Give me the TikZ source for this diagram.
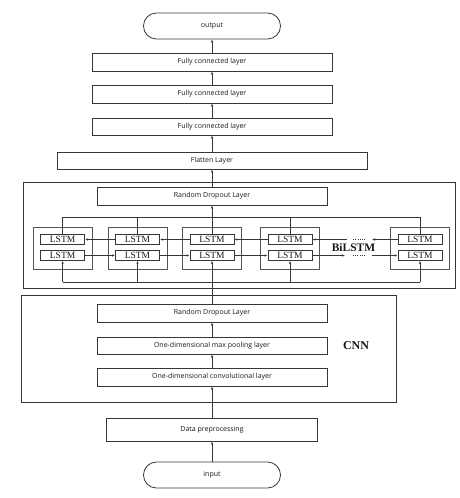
\documentclass[tikz,border=0pt]{standalone}
\usepackage{fontspec}
\setmainfont{Open Sans}
\newfontfamily\serifb{Liberation Serif}
\usetikzlibrary{arrows.meta}
\definecolor{linecol}{HTML}{363636}
\definecolor{txtcol}{HTML}{181818}
\tikzset{
 lay/.style={draw=linecol, line width=0.8pt, minimum height=18pt, minimum width=230pt, inner sep=0pt, font=\fontsize{7}{8}\selectfont, text=txtcol},
 term/.style={lay, rounded corners=12.9pt, minimum width=137pt, minimum height=26pt},
 frame/.style={draw=linecol, line width=0.9pt, inner sep=0pt},
 grp/.style={draw=linecol!85, line width=0.9pt, minimum width=59pt, minimum height=42pt, inner sep=0pt},
 lstm/.style={draw=linecol, line width=0.9pt, minimum width=44pt, minimum height=9.5pt, inner sep=0pt, text=txtcol, font=\serifb\fontsize{9.5}{9.5}\selectfont},
 arr/.style={draw=linecol, line width=0.65pt, -{Latex[length=3pt,width=2.4pt]}},
 ln/.style={draw=linecol, line width=0.65pt},
 dots/.style={draw=linecol, line width=0.6pt, dash pattern=on 0.9pt off 1.3pt},
 biglab/.style={text=txtcol, font=\serifb\bfseries\fontsize{12}{12}\selectfont, inner sep=0pt},
}
\begin{document}
\begin{tikzpicture}[x=1pt,y=-1pt]
\useasboundingbox (0,0) rectangle (459,498);
% frames
\node[frame, minimum width=432pt, minimum height=106pt] (bil) at (239,235) {};
\node[frame, minimum width=375pt, minimum height=107pt] (cnn) at (208.5,348.5) {};
% top chain
\node[term] (out) at (212,26) {output};
\node[lay, minimum width=240pt] (fc1) at (212,62) {Fully connected layer};
\node[lay, minimum width=240pt] (fc2) at (212,94) {Fully connected layer};
\node[lay, minimum width=240pt, minimum height=17pt] (fc3) at (212,126.5) {Fully connected layer};
\node[lay, minimum width=310pt, minimum height=17pt] (flat) at (212,160.5) {Flatten Layer};
\node[lay] (drop1) at (212,196) {Random Dropout Layer};
% BiLSTM groups
\foreach \i/\x in {1/62.6,2/137.5,3/212,4/290,5/420}{
  \node[grp] (g\i) at (\x,248) {};
  \node[lstm] (t\i) at (\x,239.5) {LSTM};
  \node[lstm] (b\i) at (\x,255.5) {LSTM};
}
\coordinate (tl) at (212,217);
\coordinate (bl) at (212,282);
\node[biglab, font=\serifb\bfseries\fontsize{11.5}{11.5}\selectfont] (bilab) at (353.5,248) {BiLSTM};
% CNN
\node[lay] (drop2) at (212,313) {Random Dropout Layer};
\node[lay, minimum height=17pt] (pool) at (212,345.5) {One-dimensional max pooling layer};
\node[lay] (conv) at (212,377) {One-dimensional convolutional layer};
\node[biglab] (cnnlab) at (356,346) {CNN};
\node[lay, minimum width=211pt, minimum height=23pt] (prep) at (212,429.5) {Data preprocessing};
\node[term] (in) at (212,475) {input};
% main axis
\draw[arr] (in) -- (prep);
\draw[arr] (prep) -- (conv);
\draw[arr] (conv) -- (pool);
\draw[arr] (pool) -- (drop2);
\draw[ln] (drop2.north) -- (bl);
\draw[arr] (bl) -- (b3.south);
\draw[ln] (t3.north) -- (tl);
\draw[arr] (tl) -- (drop1.south);
\draw[arr] (drop1) -- (flat);
\draw[arr] (flat) -- (fc3);
\draw[arr] (fc3) -- (fc2);
\draw[arr] (fc2) -- (fc1);
\draw[arr] (fc1) -- (out);
% collection line
\draw[ln] (t1.north) -- (t1.north |- tl) -- (t5.north |- tl) -- (t5.north);
\draw[ln] (t2.north) -- (t2.north |- tl);
\draw[ln] (t4.north) -- (t4.north |- tl);
% distribution line
\draw[ln] (b1.south |- bl) -- (b5.south |- bl);
\foreach \i in {1,2,4,5}{ \draw[arr] (b\i.south |- bl) -- (b\i.south); }
% recurrent arrows
\draw[arr] (t2.west) -- (t1.east);
\draw[arr] (t3.west) -- (t2.east);
\draw[arr] (t4.west) -- (t3.east);
\draw[arr] (b1.east) -- (b2.west);
\draw[arr] (b2.east) -- (b3.west);
\draw[arr] (b3.east) -- (b4.west);
\coordinate (tA) at (372,239.5);
\coordinate (tB) at (365,239.5);
\coordinate (tC) at (353,239.5);
\coordinate (tD) at (347,239.5);
\coordinate (bA) at (345,255.5);
\coordinate (bB) at (353,255.5);
\coordinate (bC) at (365,255.5);
\coordinate (bD) at (372,255.5);
\draw[arr] (t5.west) -- (tA);
\draw[dots] (tB) -- (tC);
\draw[arr] (tD) -- (t4.east);
\draw[arr] (b4.east) -- (bA);
\draw[dots] (bB) -- (bC);
\draw[arr] (bD) -- (b5.west);
\end{tikzpicture}
\end{document}
